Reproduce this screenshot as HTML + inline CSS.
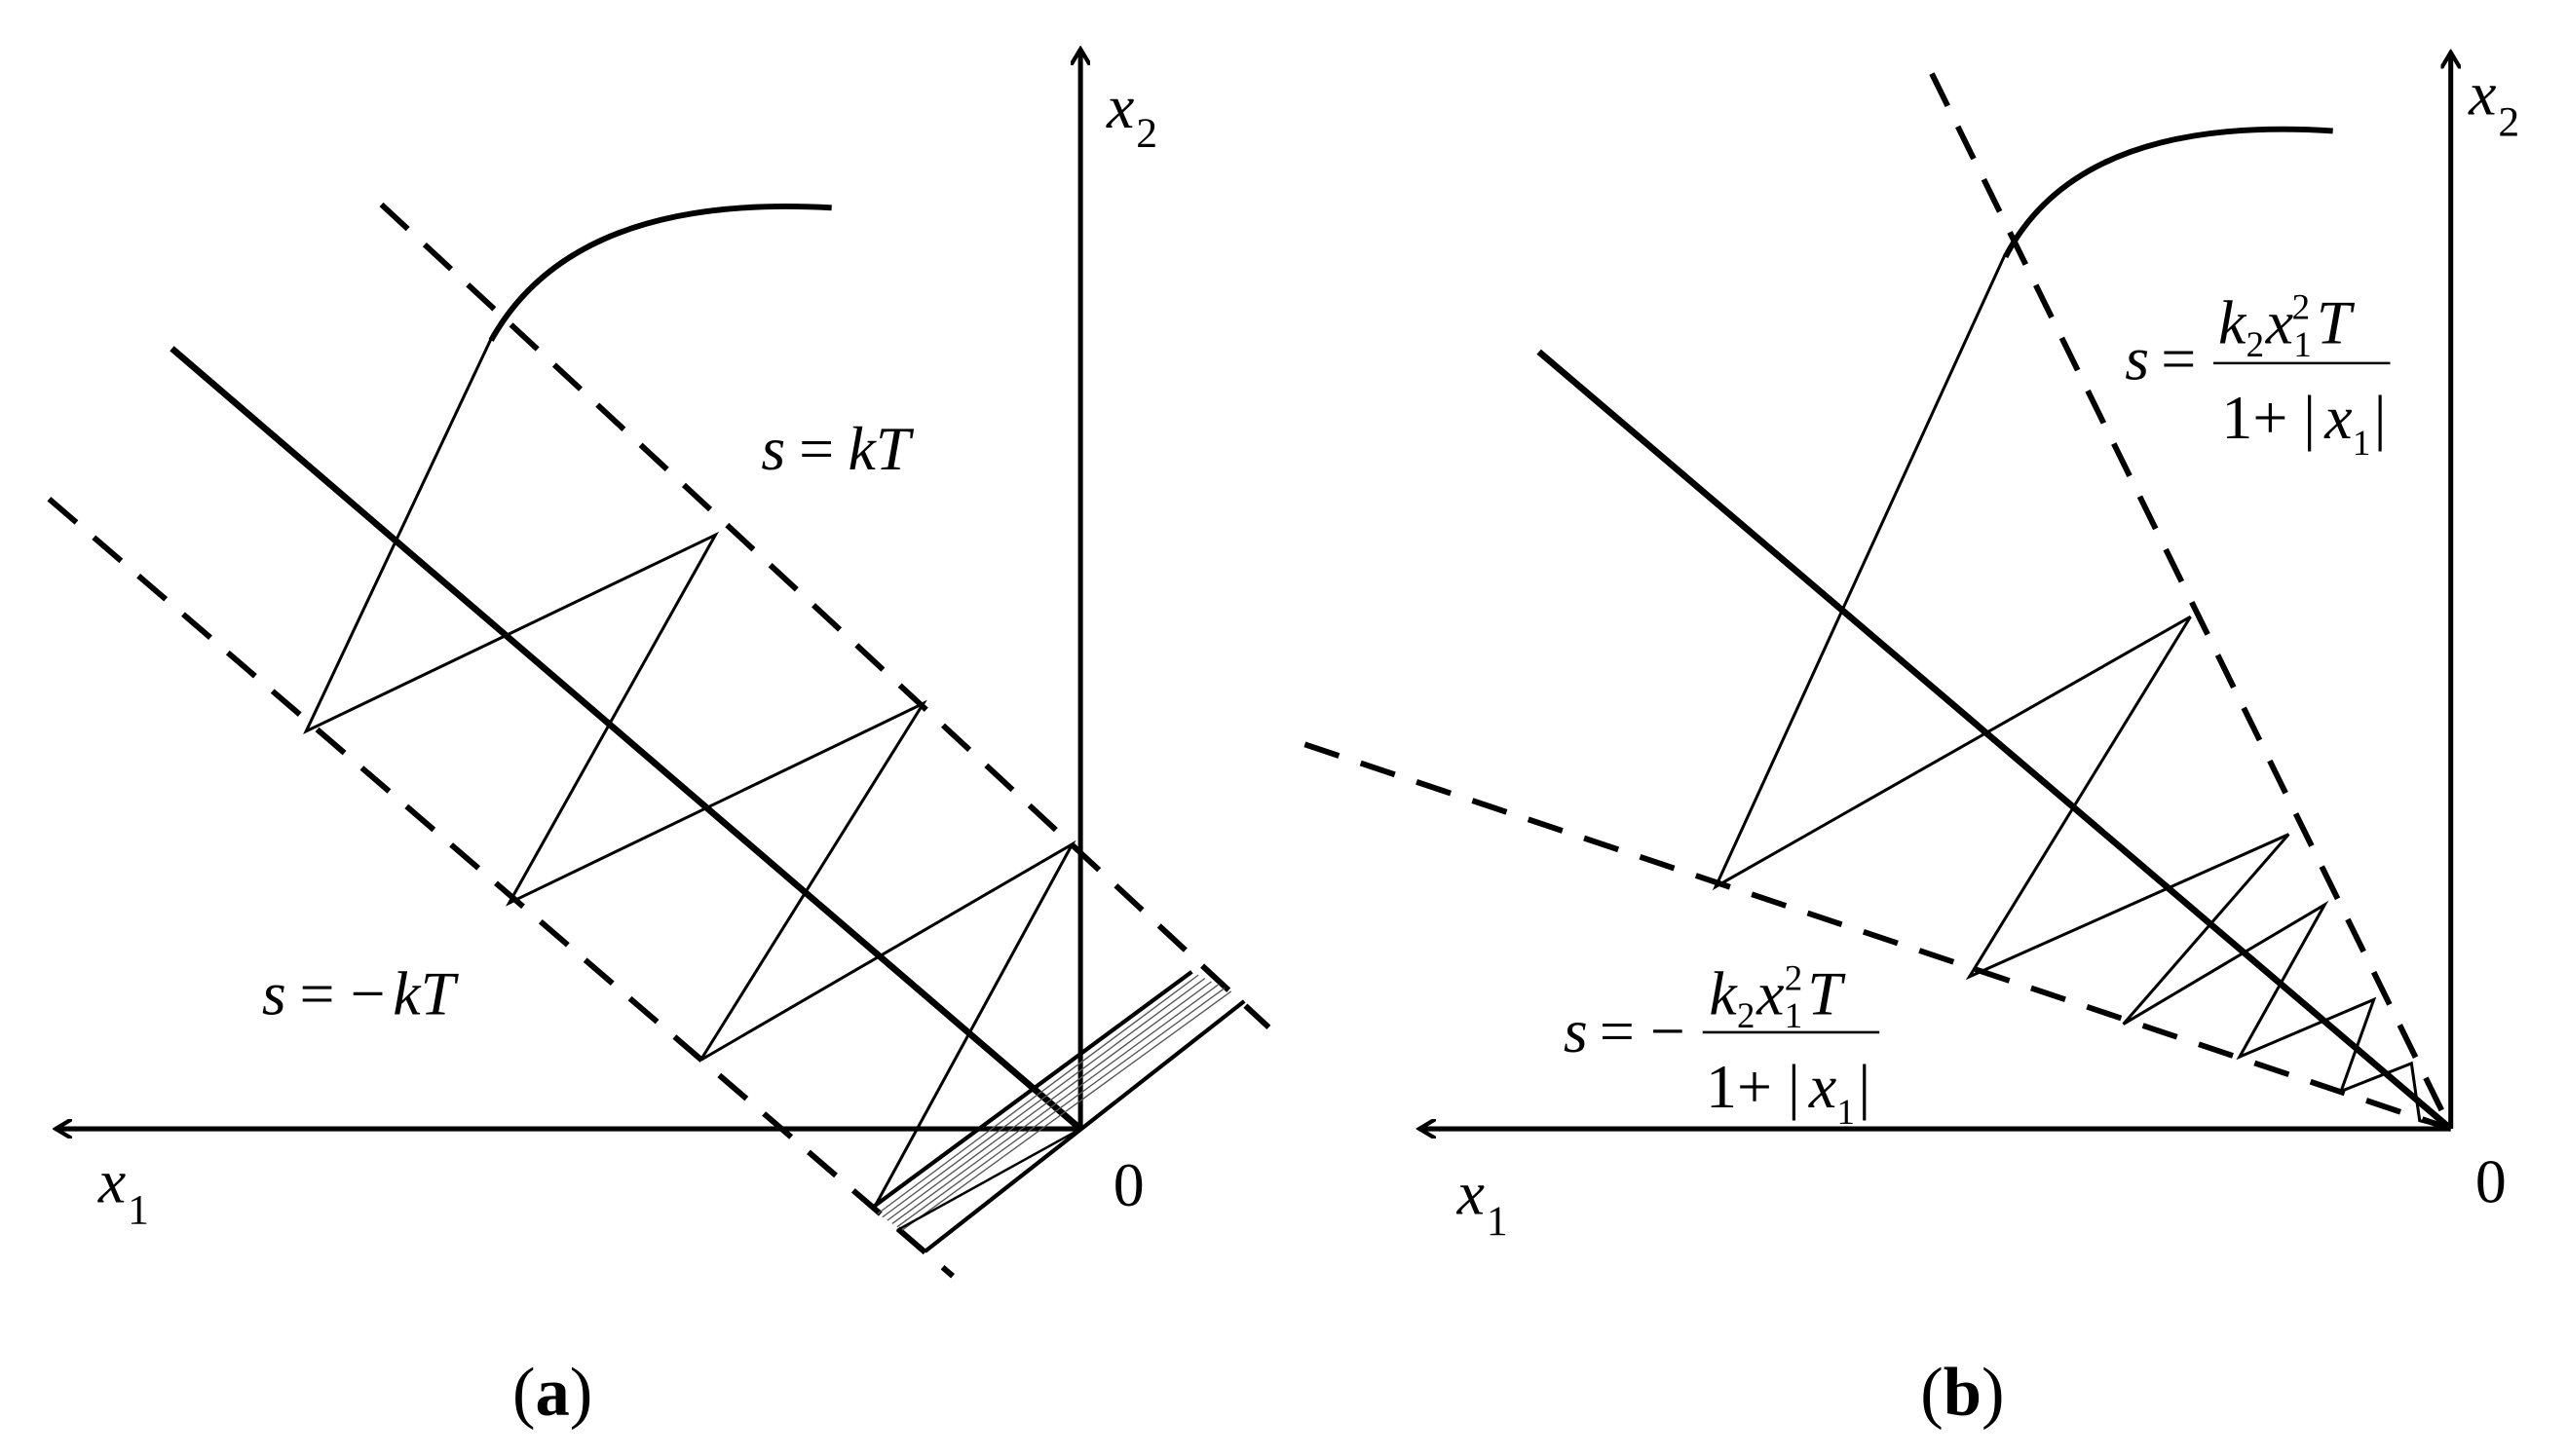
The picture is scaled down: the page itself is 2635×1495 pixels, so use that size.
<!DOCTYPE html>
<html><head><meta charset="utf-8"><style>
html,body{margin:0;padding:0;background:#fff;}
svg{display:block;}
text{font-family:"Liberation Serif",serif;fill:#000;}
.it{font-style:italic;}
</style></head><body>
<svg width="2635" height="1495" viewBox="0 0 1568 890" preserveAspectRatio="none" xmlns="http://www.w3.org/2000/svg">
<defs>
<marker id="ar" markerWidth="12" markerHeight="12" refX="10" refY="6" orient="auto" markerUnits="userSpaceOnUse">
<path d="M0,0 L10,6 L0,12" fill="none" stroke="#000" stroke-width="2.5"/>
</marker>
</defs>
<g stroke="#000" fill="none">
<!-- Panel a -->
<line x1="660" y1="690" x2="660" y2="30" stroke-width="3" marker-end="url(#ar)"/>
<line x1="660" y1="690" x2="34" y2="690" stroke-width="3" marker-end="url(#ar)"/>
<line x1="105" y1="213" x2="660" y2="690" stroke-width="4"/>
<line x1="233" y1="125" x2="775" y2="628" stroke-width="3.5" stroke-dasharray="22,14"/>
<line x1="30" y1="305" x2="582" y2="780" stroke-width="3.5" stroke-dasharray="22,14"/>
<path d="M300,208 Q350,118 508,127" stroke-width="3.5"/>
<polyline points="300,207 187,447 437,327 311,552 564,430 428,648 655,516 533,740" stroke-width="1.8"/>
<g stroke-width="0.8" stroke="#555">
<line x1="536" y1="742" x2="732" y2="596"/>
<line x1="539" y1="744" x2="736" y2="598"/>
<line x1="542" y1="746" x2="740" y2="600"/>
<line x1="545" y1="748" x2="744" y2="602"/>
<line x1="548" y1="750" x2="748" y2="604"/>
<line x1="551" y1="752" x2="752" y2="606"/>
</g>
<line x1="533" y1="738" x2="728" y2="594" stroke-width="2.5"/>
<line x1="565" y1="765" x2="760" y2="612" stroke-width="2.5"/>
<line x1="548" y1="752" x2="660" y2="690" stroke-width="1.5"/>
<!-- Panel b -->
<line x1="1497" y1="690" x2="1497" y2="32" stroke-width="3" marker-end="url(#ar)"/>
<line x1="1497" y1="690" x2="867" y2="690" stroke-width="3" marker-end="url(#ar)"/>
<line x1="940" y1="215" x2="1497" y2="690" stroke-width="4"/>
<line x1="1180" y1="45" x2="1497" y2="690" stroke-width="3.5" stroke-dasharray="22,14"/>
<line x1="797" y1="455" x2="1497" y2="690" stroke-width="3.5" stroke-dasharray="22,14"/>
<path d="M1225,157 Q1270,70 1425,80" stroke-width="3.5"/>
<polyline points="1225,155 1048,542 1338,377 1203,597 1398,510 1297,626 1420,553 1368,646 1450,611 1430,667 1473,650 1478,685 1497,690" stroke-width="1.8"/>
<line x1="1352" y1="222" x2="1460" y2="222" stroke-width="1.5"/>
<line x1="1040" y1="631" x2="1148" y2="631" stroke-width="1.5"/>
</g>
<g font-size="38">
<text x="676" y="78" class="it">x</text><text x="694" y="90" font-size="26">2</text>
<text x="60" y="735" class="it">x</text><text x="78" y="748" font-size="26">1</text>
<text x="680" y="737">0</text>
<text x="465" y="287" class="it">s</text><text x="488" y="287">=</text><text x="518" y="287" class="it">kT</text>
<text x="160" y="620" class="it">s</text><text x="183" y="620">= −</text><text x="240" y="620" class="it">kT</text>
<text x="1508" y="70" class="it">x</text><text x="1526" y="83" font-size="26">2</text>
<text x="890" y="742" class="it">x</text><text x="908" y="755" font-size="26">1</text>
<text x="1512" y="735">0</text>
<text x="1298" y="232" class="it">s</text><text x="1320" y="232">=</text>
<text x="1355" y="210" class="it">k</text><text x="1372" y="218" font-size="22">2</text><text x="1384" y="210" class="it">x</text><text x="1401" y="218" font-size="22">1</text><text x="1400" y="195" font-size="22">2</text><text x="1415" y="210" class="it">T</text>
<text x="1357" y="268">1+ | </text><text x="1420" y="268" class="it">x</text><text x="1437" y="278" font-size="22">1</text><text x="1450" y="268"> |</text>
<text x="955" y="643" class="it">s</text><text x="977" y="643">= −</text>
<text x="1044" y="620" class="it">k</text><text x="1061" y="628" font-size="22">2</text><text x="1073" y="620" class="it">x</text><text x="1090" y="628" font-size="22">1</text><text x="1090" y="605" font-size="22">2</text><text x="1104" y="620" class="it">T</text>
<text x="1042" y="677">1+ | </text><text x="1105" y="677" class="it">x</text><text x="1122" y="687" font-size="22">1</text><text x="1135" y="677"> |</text>
<text x="313" y="865" font-size="42">(<tspan font-weight="bold">a</tspan>)</text>
<text x="1173" y="865" font-size="42">(<tspan font-weight="bold">b</tspan>)</text>
</g>
</svg>
</body></html>
